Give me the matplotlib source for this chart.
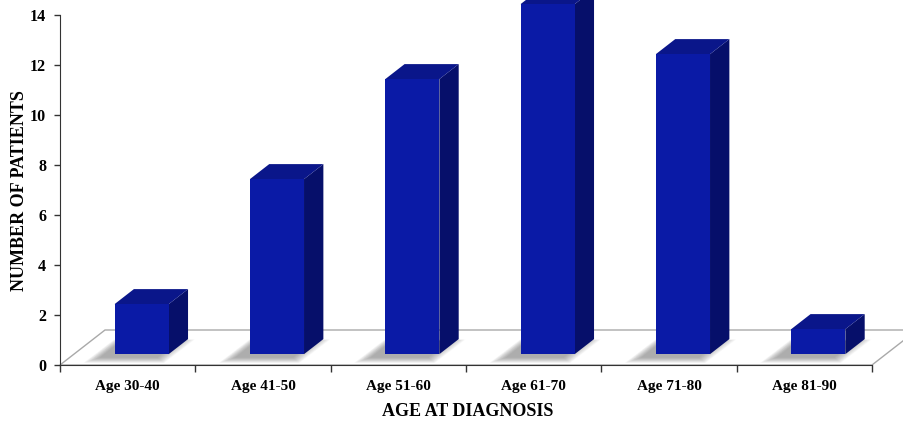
import matplotlib.pyplot as plt
from matplotlib.patches import Polygon

# data
categorias = ["Age 30-40", "Age 41-50", "Age 51-60", "Age 61-70", "Age 71-80", "Age 81-90"]
pacientes = [2, 7, 11, 14, 12, 1]
y_ticks = [0, 2, 4, 6, 8, 10, 12, 14]

# colores de las caras
c_frente = "#0A1AA6"
c_arriba = "#0A168A"
c_lado = "#060F6A"
c_piso = "#A9A9A9"

plt.rcParams["font.family"] = ["Liberation Serif", "DejaVu Serif"]
plt.rcParams["font.weight"] = "bold"

fig = plt.figure(figsize=(9.04, 4.22), dpi=100)
ax = fig.add_axes([60 / 904, 57 / 422, 812 / 904, 350 / 422])
ax.set_xlim(0, 6)
ax.set_ylim(0, 14)

# profundidad del "piso" 3D (en unidades de datos)
prof_x = 45 / (812 / 6)
prof_y = 35 / 25


def desplaza(t):
    return t * prof_x, t * prof_y


# piso
bx, by = desplaza(1.0)
piso = Polygon([(0, 0), (6, 0), (6 + bx, by), (bx, by)], closed=True,
               facecolor="white", edgecolor=c_piso, linewidth=1.0,
               clip_on=False, zorder=1)
ax.add_patch(piso)

ancho = 0.4
fx, fy = desplaza(0.31)
tx, ty = desplaza(0.74)
dx, dy = tx - fx, ty - fy

for i, v in enumerate(pacientes):
    x0 = i + 0.5 - ancho / 2 + fx
    x1 = x0 + ancho
    y0 = fy
    y1 = fy + v

    # sombra difusa sobre el piso
    n = 16
    for k in range(n):
        e = (n - k) / n
        ex = 0.01 + 0.13 * e
        ey = 0.04 + 0.38 * e
        sx, sy = -0.09, -0.10
        sombra = Polygon([(x0 + sx - ex, y0 + sy - ey * 0.6),
                          (x1 + sx + ex * 0.4, y0 + sy - ey * 0.6),
                          (x1 + dx + sx + ex, y0 + dy + sy + ey * 0.2),
                          (x0 + dx + sx - ex * 0.4, y0 + dy + sy + ey * 0.2)],
                         closed=True, facecolor="#505050", edgecolor="none",
                         alpha=0.035, clip_on=False, zorder=2)
        ax.add_patch(sombra)

    frente = Polygon([(x0, y0), (x1, y0), (x1, y1), (x0, y1)], closed=True,
                     facecolor=c_frente, edgecolor="none", clip_on=False, zorder=4)
    lado = Polygon([(x1, y0), (x1 + dx, y0 + dy), (x1 + dx, y1 + dy), (x1, y1)],
                   closed=True, facecolor=c_lado, edgecolor="none",
                   clip_on=False, zorder=3)
    arriba = Polygon([(x0, y1), (x1, y1), (x1 + dx, y1 + dy), (x0 + dx, y1 + dy)],
                     closed=True, facecolor=c_arriba, edgecolor="none",
                     clip_on=False, zorder=3)
    ax.add_patch(lado)
    ax.add_patch(arriba)
    ax.add_patch(frente)

# ejes
for lado_eje in ["top", "right"]:
    ax.spines[lado_eje].set_visible(False)
ax.spines["left"].set_color("#333333")
ax.spines["bottom"].set_color("#333333")
ax.spines["left"].set_zorder(5)
ax.spines["bottom"].set_zorder(5)

ax.set_yticks(y_ticks)
ax.set_yticklabels([str(t) for t in y_ticks], fontsize=11.5, fontweight="bold")
ax.tick_params(axis="y", direction="out", length=4, width=1, pad=6, color="#333333")

ax.set_xticks([i + 0.5 for i in range(6)])
ax.set_xticklabels(categorias, fontsize=11, fontweight="bold")
ax.tick_params(axis="x", which="major", length=0, pad=11)
ax.set_xticks(range(7), minor=True)
ax.tick_params(axis="x", which="minor", direction="out", length=5, width=1, color="#333333")

fig.text(20 / 904, 1 - 191 / 422, "NUMBER OF PATIENTS", rotation=90,
         ha="center", va="center", fontsize=13, fontweight="bold")
fig.text(468 / 904, 1 - 411 / 422, "AGE AT DIAGNOSIS",
         ha="center", va="center", fontsize=13, fontweight="bold")

fig.savefig("out.png", dpi=100)
